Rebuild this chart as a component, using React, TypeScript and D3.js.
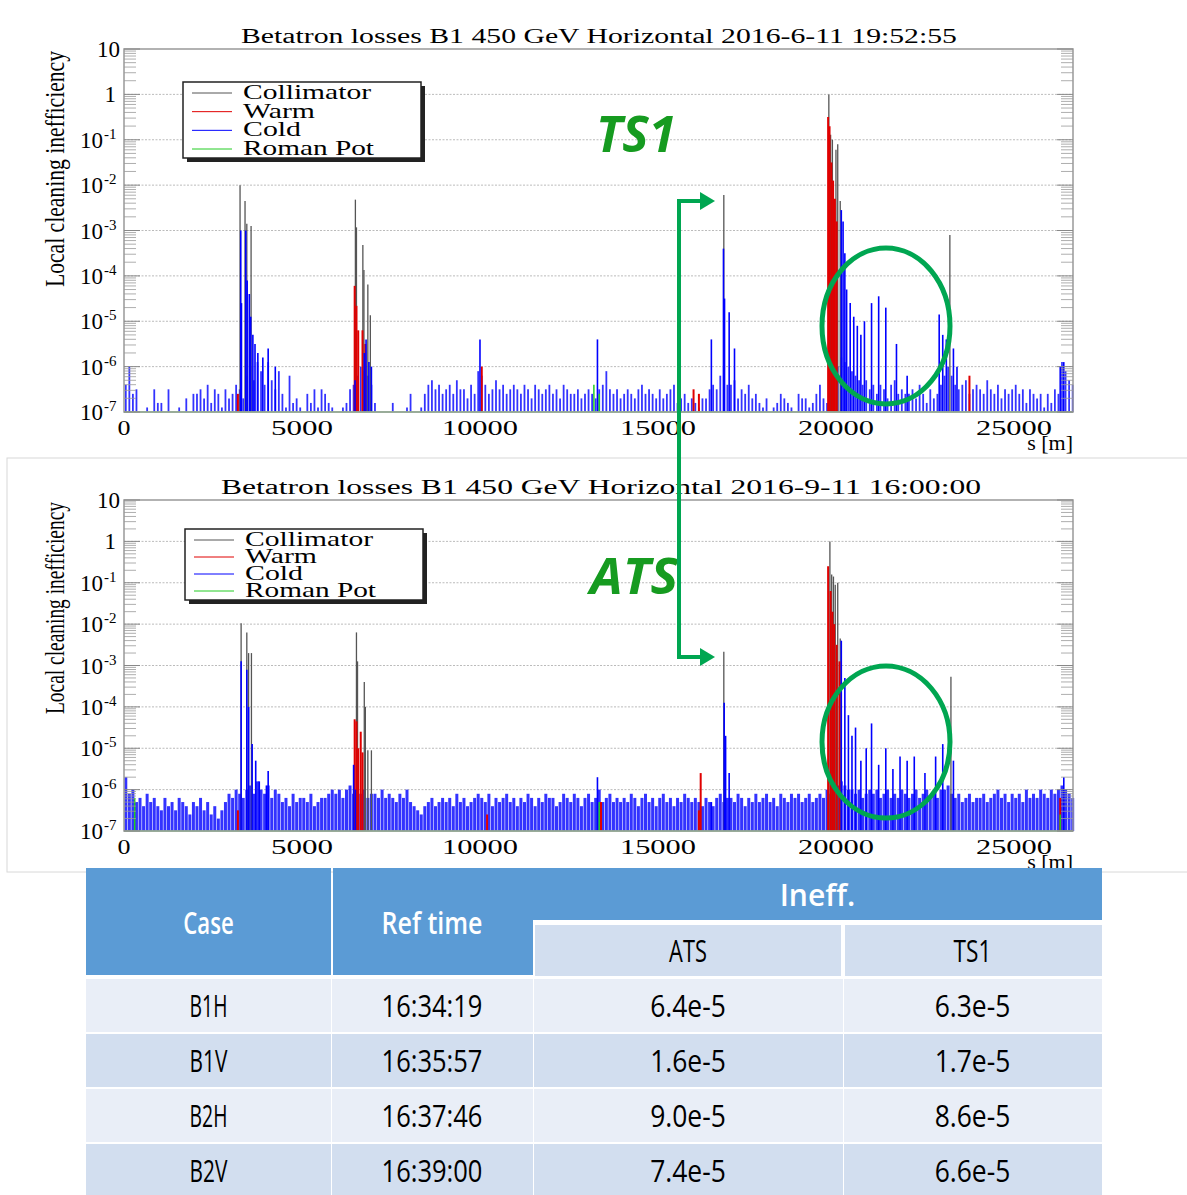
import React from "react";
import * as d3 from "d3";

// ---------- data ----------
const seriesNames = ["Collimator", "Warm", "Cold", "Roman Pot"];
const seriesColors = ["#555555", "#e00000", "#0000ff", "#22cc22"];
const yTickExps = [-7, -6, -5, -4, -3, -2, -1, 0, 1];
const xTicks = [0, 5000, 10000, 15000, 20000, 25000];
const noiseStep = 100; // metres per noise bin

// TS1 (top) — [s, log10(ineff)]
const collTS1 = [[3260,-2.0],[3400,-2.35],[3450,-2.85],[3570,-2.9],[6500,-2.32],[6530,-2.93],[6710,-3.32],[6740,-3.87],[6850,-4.19],[6920,-4.87],[16850,-2.22],[19800,0.0],[19850,-0.89],[19900,-1.0],[20000,-1.22],[20050,-1.1],[20120,-2.35],[23200,-3.1]];
const warmTS1 = [[3200,-6.6],[6480,-4.22],[6530,-4.66],[6580,-5.2],[6700,-5.2],[6780,-5.5],[10050,-6.0],[16000,-6.5],[16150,-6.6],[19780,-0.5],[19820,-0.7],[19870,-1.5],[19920,-1.9],[19970,-2.3],[20020,-2.8],[23750,-6.2]];
const coldTS1 = [[3280,-3.0],[3300,-4.6],[3420,-3.0],[3460,-4.1],[3520,-4.4],[3560,-4.9],[3620,-5.3],[3680,-5.5],[3760,-5.7],[3900,-5.8],[4050,-5.6],[4250,-6.0],[6490,-6.3],[6750,-5.7],[6800,-5.4],[6880,-5.9],[6950,-6.0],[10000,-5.4],[13300,-5.4],[16500,-5.4],[16840,-3.4],[16870,-4.5],[17000,-4.8],[17150,-5.6],[20150,-2.55],[20200,-2.8],[20250,-3.5],[20300,-4.3],[20400,-4.6],[20500,-4.9],[20600,-5.1],[20700,-5.3],[20800,-5.0],[21000,-4.6],[21200,-4.45],[21400,-4.7],[21700,-5.5],[22000,-6.2],[22900,-4.85],[23000,-5.3],[23100,-5.4],[23300,-5.6],[23400,-6.0],[26300,-6.0],[26400,-5.9]];
const rpTS1 = [[13200,-6.4],[13350,-6.6]];
const noiseTS1 = [
-6.4,-6.0,-6.6,-6.5,-7,-7,-6.9,-7,-6.5,-6.8,
-6.8,-7,-6.5,-7,-7,-6.9,-7,-6.7,-7,-6.6,
-6.6,-6.5,-6.7,-6.4,-6.8,-6.5,-6.6,-6.9,-6.5,-6.7,
-6.6,-6.4,-6.5,-6.7,-6.2,-6.0,-6.3,-5.9,-6.1,-6.4,
-5.9,-6.3,-6.5,-6.1,-6.6,-6.9,-6.2,-6.8,-6.7,-6.9,
-7,-6.6,-6.8,-6.5,-6.9,-6.5,-6.6,-6.8,-6.9,-7,
-7,-6.9,-6.8,-6.5,-6.4,-6.2,-6.0,-6.1,-6.2,-6.4,
-6.8,-7,-7,-7,-7,-6.8,-7,-7,-7,-6.9,
-6.6,-7,-7,-6.9,-6.6,-6.4,-6.3,-6.5,-6.4,-6.6,
-6.5,-6.4,-6.6,-6.3,-6.5,-6.5,-6.7,-6.4,-6.6,-6.1,
-6.2,-6.4,-6.6,-6.5,-6.3,-6.5,-6.4,-6.6,-6.5,-6.4,
-6.5,-6.6,-6.4,-6.5,-6.7,-6.4,-6.5,-6.6,-6.5,-6.4,
-6.6,-6.5,-6.7,-6.4,-6.5,-6.6,-6.6,-6.5,-6.7,-6.6,
-6.5,-6.6,-6.7,-6.5,-6.4,-6.1,-6.5,-6.6,-6.5,-6.7,
-6.6,-6.5,-6.6,-6.7,-6.5,-6.4,-6.6,-6.5,-6.6,-6.7,
-6.5,-6.7,-6.6,-6.5,-6.4,-6.8,-6.7,-6.6,-6.8,-6.7,
-6.8,-6.9,-6.7,-6.7,-6.5,-6.4,-6.5,-6.2,-6.0,-6.4,
-6.4,-6.3,-6.7,-6.5,-6.6,-6.4,-6.7,-6.6,-6.8,-6.9,
-6.7,-7,-6.9,-6.8,-6.6,-6.7,-6.8,-6.9,-7,-6.6,
-6.7,-6.7,-6.9,-6.8,-6.6,-6.4,-6.7,-6.8,-6.5,-6.3,
-6.0,-5.8,-5.9,-6.0,-6.1,-6.2,-6.3,-6.4,-6.3,-6.5,
-6.4,-6.6,-6.4,-6.5,-6.7,-6.4,-6.3,-6.6,-6.5,-6.6,
-6.6,-6.5,-6.7,-6.4,-6.6,-6.8,-6.5,-6.7,-6.6,-6.4,
-6.2,-6.0,-6.2,-6.4,-6.5,-6.4,-6.3,-6.6,-6.5,-6.4,
-6.5,-6.6,-6.3,-6.5,-6.6,-6.4,-6.7,-6.5,-6.6,-6.5,
-6.4,-6.6,-6.5,-6.8,-6.5,-6.6,-6.7,-6.6,-6.9,-6.6,
-6.8,-6.5,-6.6,-5.9,-6.1,-6.3,-6.4];

// ATS (bottom)
const collATS = [[3290,-1.98],[3450,-2.2],[3500,-2.7],[3580,-2.7],[6530,-2.2],[6560,-2.9],[6750,-3.4],[6780,-4.0],[6850,-5.05],[6950,-5.05],[16850,-2.67],[19830,0.0],[19880,-0.8],[19930,-0.85],[19980,-1.05],[20050,-1.0],[20120,-2.35],[23230,-3.27]];
const warmATS = [[3200,-6.5],[6480,-4.3],[6530,-4.35],[6580,-5.0],[6650,-4.6],[6700,-5.1],[10200,-6.6],[13400,-6.3],[16150,-6.5],[16200,-5.6],[19780,-0.6],[19850,-1.2],[19900,-1.7],[19950,-2.0],[20020,-2.5],[20100,-2.9],[26300,-6.2]];
const coldATS = [[3290,-2.9],[3450,-3.1],[3500,-4.0],[3600,-4.9],[3700,-5.3],[3800,-5.8],[4000,-5.9],[4050,-5.55],[6450,-5.4],[6500,-6.0],[13300,-5.7],[16500,-6.3],[16860,-3.9],[16900,-4.7],[17000,-5.6],[20150,-2.4],[20250,-3.3],[20350,-4.2],[20450,-4.7],[20550,-4.5],[20700,-5.3],[20850,-5.0],[21000,-4.4],[21200,-5.4],[21400,-5.0],[21600,-5.5],[21800,-5.2],[22000,-5.3],[22200,-5.2],[22500,-5.6],[22800,-5.2],[23000,-4.9],[23300,-5.3],[26400,-5.7]];
const rpATS = [[300,-6.2],[13350,-6.3],[26300,-6.6]];
const noiseATS = [
-5.7,-6.1,-6.0,-6.3,-6.2,-6.4,-6.1,-6.3,-6.2,-6.4,
-6.5,-6.2,-6.4,-6.3,-6.5,-6.2,-6.3,-6.4,-6.6,-6.3,
-6.4,-6.2,-6.5,-6.3,-6.6,-6.4,-6.7,-6.5,-6.3,-6.1,
-6.2,-6.0,-6.1,-6.2,-6.0,-5.9,-6.1,-5.8,-6.0,-6.1,
-5.9,-6.2,-6.0,-6.1,-6.3,-6.2,-6.4,-6.1,-6.3,-6.2,
-6.2,-6.3,-6.1,-6.4,-6.3,-6.2,-6.2,-6.1,-6.0,-6.1,
-6.0,-6.2,-6.0,-5.9,-6.1,-6.0,-6.1,-6.0,-6.2,-6.1,
-6.1,-6.2,-6.0,-6.2,-6.1,-6.2,-6.3,-6.1,-6.2,-6.0,
-6.3,-6.4,-6.5,-6.6,-6.4,-6.3,-6.2,-6.4,-6.3,-6.2,
-6.3,-6.2,-6.4,-6.1,-6.3,-6.2,-6.4,-6.3,-6.2,-6.1,
-6.2,-6.3,-6.1,-6.4,-6.2,-6.3,-6.2,-6.1,-6.3,-6.2,
-6.4,-6.2,-6.3,-6.1,-6.2,-6.4,-6.2,-6.3,-6.1,-6.2,
-6.2,-6.4,-6.3,-6.1,-6.2,-6.3,-6.1,-6.2,-6.4,-6.2,
-6.1,-6.3,-6.2,-6.0,-6.3,-6.2,-6.1,-6.3,-6.2,-6.3,
-6.2,-6.3,-6.1,-6.2,-6.4,-6.2,-6.1,-6.3,-6.2,-6.4,
-6.2,-6.1,-6.3,-6.2,-6.4,-6.2,-6.3,-6.1,-6.2,-6.3,
-6.2,-6.3,-6.4,-6.2,-6.3,-6.4,-6.2,-6.1,-6.3,-6.2,
-6.2,-6.3,-6.1,-6.2,-6.4,-6.2,-6.3,-6.1,-6.3,-6.2,
-6.1,-6.3,-6.2,-6.4,-6.1,-6.2,-6.3,-6.1,-6.2,-6.1,
-6.3,-6.2,-6.1,-6.3,-6.2,-6.1,-6.2,-6.0,-6.1,-6.0,
-5.9,-5.8,-5.9,-6.0,-6.0,-6.1,-6.0,-6.2,-6.1,-6.0,
-6.1,-6.0,-6.2,-6.1,-6.0,-6.2,-6.1,-6.2,-6.0,-6.1,
-6.2,-6.1,-6.0,-6.2,-6.1,-6.0,-6.2,-6.1,-6.2,-6.0,
-6.0,-5.9,-6.1,-6.2,-6.1,-6.3,-6.2,-6.1,-6.3,-6.2,
-6.2,-6.1,-6.3,-6.2,-6.1,-6.0,-6.2,-6.1,-6.3,-6.1,
-6.2,-6.1,-6.3,-6.0,-6.2,-6.1,-6.2,-6.0,-6.1,-6.2,
-6.0,-6.1,-6.0,-5.9,-6.0,-6.1,-6.2];

const tableHead = ["Case", "Ref time", "Ineff."];
const subHead = ["ATS", "TS1"];
const caseCol = ["B1H", "B1V", "B2H", "B2V"];
const refTimeCol = ["16:34:19", "16:35:57", "16:37:46", "16:39:00"];
const atsCol = ["6.4e-5", "1.6e-5", "9.0e-5", "7.4e-5"];
const ts1Col = ["6.3e-5", "1.7e-5", "8.6e-5", "6.6e-5"];

const SERIF = "'Liberation Serif','DejaVu Serif',serif";
const SANS = "'Open Sans','Noto Sans',sans-serif";

type P = { top: number; bottom: number; title: string; titleLen: number; titleX: number; ylabLen: number; legY: number; legX: number;
  coll: number[][]; warm: number[][]; cold: number[][]; rp: number[][]; noise: number[]; noiseW: number };

function Plot(p: P) {
  const x = d3.scaleLinear().domain([0, 26659]).range([124, 1073]);
  const y = d3.scaleLog().domain([1e-7, 10]).range([p.bottom, p.top]);
  const base = y(1e-7);
  const spike = (d: number[], color: string, w: number, key: string, op = 1) => (
    <line key={key} x1={x(d[0])} x2={x(d[0])} y1={base} y2={y(Math.pow(10, d[1]))} stroke={color} strokeWidth={w} strokeOpacity={op} />
  );
  const minors: number[] = [];
  for (let e = -7; e < 1; e++) for (let m = 2; m <= 9; m++) minors.push(m * Math.pow(10, e));
  const legH = p.top === 49 ? 76 : 71;
  return (
    <g>
      <text x={p.titleX} y={p.top - 6} fontFamily={SERIF} fontSize={20} textLength={p.titleLen} lengthAdjust="spacingAndGlyphs">{p.title}</text>
      <text transform={`translate(64,${p.top + 2 + p.ylabLen / 2}) rotate(-90)`} textAnchor="middle" fontFamily={SERIF} fontSize={27} textLength={p.ylabLen} lengthAdjust="spacingAndGlyphs">Local cleaning inefficiency</text>
      {yTickExps.slice(1, -1).map(e => (
        <line key={"g" + e} x1={124} x2={1073} y1={y(Math.pow(10, e))} y2={y(Math.pow(10, e))} stroke="#bbb" strokeDasharray="2,1.5" strokeWidth={1} />
      ))}
      {p.noise.map((v, i) => v > -6.95 ? spike([i * noiseStep + 50, v], "#0000ff", p.noiseW, "n" + i, 0.8) : null)}
      {p.coll.map((d, i) => spike(d, seriesColors[0], 1.3, "c" + i))}
      {p.warm.map((d, i) => spike(d, seriesColors[1], 2, "w" + i))}
      {p.cold.map((d, i) => spike(d, seriesColors[2], 1.6, "b" + i))}
      {p.rp.map((d, i) => spike(d, seriesColors[3], 1.5, "r" + i))}
      <line x1={124} x2={1073} y1={base} y2={base} stroke="#7ddc7d" strokeWidth={1.5} />
      <rect x={124} y={p.top} width={949} height={p.bottom - p.top} fill="none" stroke="#999" strokeWidth={1.5} />
      {yTickExps.map(e => (
        <g key={"t" + e}>
          <line x1={124} x2={140} y1={y(Math.pow(10, e))} y2={y(Math.pow(10, e))} stroke="#888" />
          <line x1={1057} x2={1073} y1={y(Math.pow(10, e))} y2={y(Math.pow(10, e))} stroke="#888" />
          <text x={e === 0 ? 116 : e === 1 ? 120 : 103} y={y(Math.pow(10, e)) + 8} textAnchor="end" fontFamily={SERIF} fontSize={23}>
            {e === 0 ? "1" : "10"}
          </text>
          {e < 0 ? <text x={104} y={y(Math.pow(10, e)) - 1} fontFamily={SERIF} fontSize={15}>{"-" + -e}</text> : null}
        </g>
      ))}
      {minors.map((m, i) => (
        <g key={"m" + i}>
          <line x1={124} x2={136} y1={y(m)} y2={y(m)} stroke="#999" strokeWidth={0.8} />
          <line x1={1061} x2={1073} y1={y(m)} y2={y(m)} stroke="#999" strokeWidth={0.8} />
        </g>
      ))}
      {xTicks.map(t => (
        <text key={"x" + t} x={x(t)} y={p.bottom + 23} textAnchor="middle" fontFamily={SERIF} fontSize={22} textLength={t === 0 ? 13 : t < 10000 ? 62 : 76} lengthAdjust="spacingAndGlyphs">{t}</text>
      ))}
      <text x={1073} y={p.bottom + 38} textAnchor="end" fontFamily={SERIF} fontSize={22}>s [m]</text>
      <rect x={p.legX + 4} y={p.legY + 4} width={238} height={legH} fill="#222" />
      <rect x={p.legX} y={p.legY} width={238} height={legH} fill="#fff" stroke="#222" strokeWidth={1.5} />
      {seriesNames.map((n, i) => (
        <g key={n}>
          <line x1={p.legX + 9} x2={p.legX + 49} y1={p.legY + 11 + i * (legH - 20) / 3} y2={p.legY + 11 + i * (legH - 20) / 3} stroke={seriesColors[i]} strokeWidth={1} />
          <text x={p.legX + 60} y={p.legY + 17 + i * (legH - 20) / 3} fontFamily={SERIF} fontSize={21} textLength={[128, 72, 58, 131][i]} lengthAdjust="spacingAndGlyphs">{n}</text>
        </g>
      ))}
    </g>
  );
}

function Cell(props: { x: number; y: number; t: string; fill: string; bold?: boolean }) {
  return (
    <text x={props.x} y={props.y} textAnchor="middle" fill={props.fill} fontFamily={SANS} fontWeight={props.bold ? 600 : 400} fontSize={31}
      textLength={props.t.length * 12.6} lengthAdjust="spacingAndGlyphs">{props.t}</text>
  );
}

export default function App() {
  const G = "#00a651";
  const cols = [86, 331, 533, 843, 1102];
  const rowsY = [979, 1034, 1089, 1144];
  const rowH = 53;
  const cx = (i: number) => (cols[i] + cols[i + 1]) / 2;
  return (
    <svg width={1187} height={1195} style={{ position: "absolute", left: 0, top: 0, background: "#fff" }}>
      <rect x={0} y={0} width={1187} height={1195} fill="#fff" />
      <rect x={7} y={458} width={1200} height={414} fill="none" stroke="#d8d8d8" strokeWidth={1} />
      <Plot top={49} bottom={412} title="Betatron losses B1 450 GeV Horizontal 2016-6-11 19:52:55" titleLen={716} titleX={241} ylabLen={236} legX={183} legY={82}
        coll={collTS1} warm={warmTS1} cold={coldTS1} rp={rpTS1} noise={noiseTS1} noiseW={1.8} />
      <Plot top={500} bottom={831} title="Betatron losses B1 450 GeV Horizontal 2016-9-11 16:00:00" titleLen={760} titleX={221} ylabLen={212} legX={185} legY={529}
        coll={collATS} warm={warmATS} cold={coldATS} rp={rpATS} noise={noiseATS} noiseW={3} />
      <text x={596} y={152} fill="#169b20" fontFamily={SANS} fontWeight="bold" fontStyle="italic" fontSize={50} textLength={80} lengthAdjust="spacingAndGlyphs">TS1</text>
      <text x={590} y={594} fill="#169b20" fontFamily={SANS} fontWeight="bold" fontStyle="italic" fontSize={50} textLength={88} lengthAdjust="spacingAndGlyphs">ATS</text>
      <path d="M702,201 L679,201 L679,657 L702,657" fill="none" stroke={G} strokeWidth={4} />
      <path d="M700,192 L715,201 L700,210 Z" fill={G} />
      <path d="M700,648 L715,657 L700,666 Z" fill={G} />
      <ellipse cx={886} cy={326} rx={64} ry={78} fill="none" stroke={G} strokeWidth={5} />
      <ellipse cx={886} cy={742} rx={64} ry={76} fill="none" stroke={G} strokeWidth={5} />
      {/* table */}
      <rect x={86} y={868} width={245} height={107} fill="#5b9bd5" />
      <rect x={333} y={868} width={200} height={107} fill="#5b9bd5" />
      <rect x={533} y={868} width={569} height={52} fill="#5b9bd5" />
      <rect x={535} y={925} width={306} height={51} fill="#d2deef" />
      <rect x={845} y={925} width={257} height={51} fill="#d2deef" />
      <Cell x={cx(0)} y={934} t={tableHead[0]} fill="#fff" bold />
      <Cell x={cx(1)} y={934} t={tableHead[1]} fill="#fff" bold />
      <Cell x={(533 + 1102) / 2} y={906} t={tableHead[2]} fill="#fff" bold />
      <Cell x={cx(2)} y={962} t={subHead[0]} fill="#000" />
      <Cell x={cx(3)} y={962} t={subHead[1]} fill="#000" />
      {caseCol.map((c, r) => {
        const vals = [c, refTimeCol[r], atsCol[r], ts1Col[r]];
        const fill = r % 2 === 0 ? "#e9eef7" : "#d2deef";
        return (
          <g key={c}>
            {vals.map((v, i) => (
              <g key={i}>
                <rect x={cols[i] + (i ? 1 : 0)} y={rowsY[r]} width={cols[i + 1] - cols[i] - (i ? 1 : 0)} height={rowH} fill={fill} />
                <Cell x={cx(i)} y={rowsY[r] + 38} t={v} fill="#000" />
              </g>
            ))}
          </g>
        );
      })}
    </svg>
  );
}
